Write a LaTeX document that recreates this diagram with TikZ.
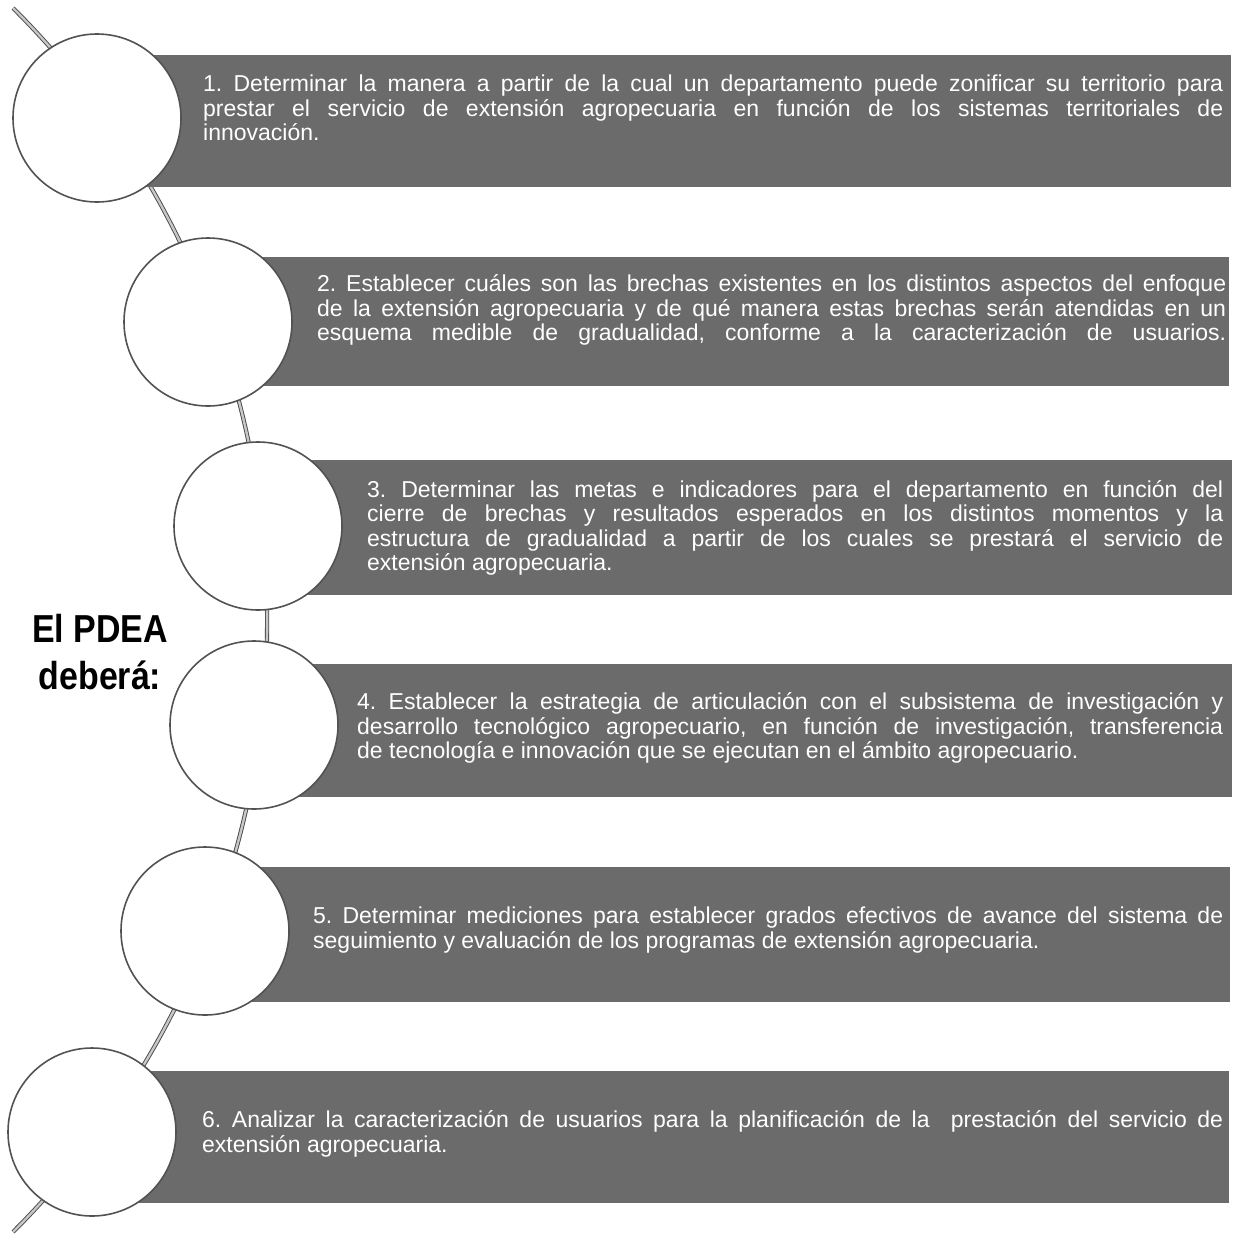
\documentclass[tikz,border=0pt]{standalone}
\usepackage{fontspec}
\setmainfont{Liberation Sans}
\newfontfamily\titlefont{Liberation Sans}[FakeStretch=0.87]
\begin{document}
\frenchspacing
\begin{tikzpicture}[x=1pt,y=-1pt,
  bar/.style={fill=black!58, draw=none},
  disc/.style={circle, draw=black!68, line width=1.6pt, fill=white, minimum size=168pt, inner sep=0pt},
  itemtext/.style={anchor=west, inner sep=0pt, text=white, align=justify, font=\fontsize{23}{24.3}\selectfont},
  thread/.style={draw=black!72, line width=0.9pt, double=black!22, double distance=2.4pt},
  title/.style={font=\titlefont\fontsize{39}{47}\selectfont\bfseries, align=center}
]
\useasboundingbox (0,0) rectangle (1235,1235);

% thread behind everything
\coordinate (threadtop) at (13,8);
\draw[thread] (threadtop) arc[start angle=-45.1, end angle=45.1, radius=864];

% bars
\fill[bar] (97,55) rectangle (1231,187);
\fill[bar] (208,257) rectangle (1229,386);
\fill[bar] (258,460) rectangle (1232,595);
\fill[bar] (254,664) rectangle (1232,797);
\fill[bar] (205,867) rectangle (1230,1002);
\fill[bar] (92,1071) rectangle (1229,1203);

% circles
\node[disc] (c1) at (97,118) {};
\node[disc] (c2) at (208,322) {};
\node[disc] (c3) at (258,526) {};
\node[disc] (c4) at (254,725) {};
\node[disc] (c5) at (205,931) {};
\node[disc] (c6) at (92,1132) {};

% texts
\node[itemtext, text width=1020pt] (t1) at (203,108) {1. Determinar la manera a partir de la cual un departamento puede zonificar su territorio para\linebreak prestar el servicio de extensión agropecuaria en función de los sistemas territoriales de\linebreak innovación.};
\node[itemtext, text width=909pt] (t2) at (317,310) {2. Establecer cuáles son las brechas existentes en los distintos aspectos del enfoque\linebreak de la extensión agropecuaria y de qué manera estas brechas serán atendidas en un\linebreak esquema medible de gradualidad, conforme a la caracterización de usuarios.\parfillskip=0pt\par};
\node[itemtext, text width=856pt] (t3) at (367,528) {3. Determinar las metas e indicadores para el departamento en función del\linebreak cierre de brechas y resultados esperados en los distintos momentos y la\linebreak estructura de gradualidad a partir de los cuales se prestará el servicio de\linebreak extensión agropecuaria.};
\node[itemtext, text width=866pt] (t4) at (357,728) {4. Establecer la estrategia de articulación con el subsistema de investigación y\linebreak desarrollo tecnológico agropecuario, en función de investigación, transferencia\linebreak de tecnología e innovación que se ejecutan en el ámbito agropecuario.};
\node[itemtext, text width=910pt] (t5) at (313,930) {5. Determinar mediciones para establecer grados efectivos de avance del sistema de\linebreak seguimiento y evaluación de los programas de extensión agropecuaria.};
\node[itemtext, text width=1021pt] (t6) at (202,1134) {6. Analizar la caracterización de usuarios para la planificación de la \ prestación del servicio de\linebreak extensión agropecuaria.};

% title
\node[title] (title) at (100,652) {El PDEA\\deberá:};
\end{tikzpicture}
\end{document}
